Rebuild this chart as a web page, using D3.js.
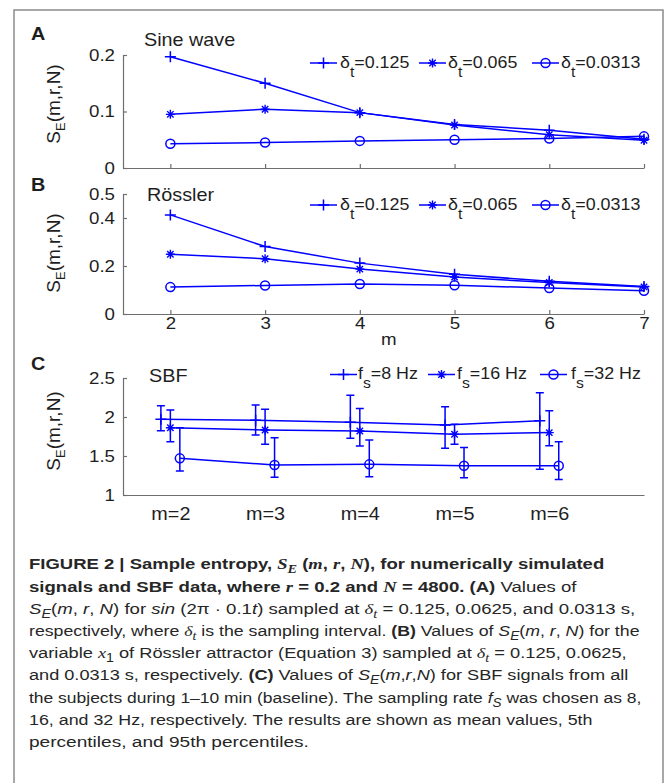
<!DOCTYPE html>
<html>
<head>
<meta charset="utf-8">
<script src="https://cdn.jsdelivr.net/npm/d3@7"></script>
<style>
  body { margin: 0; background: #fff; }
  svg { display: block; font-family: "Liberation Sans", Arial, sans-serif; }
</style>
</head>
<body>
<svg width="669" height="783"></svg>
<script>
// data
var mValues = [2, 3, 4, 5, 6, 7];
var sineDt0125 = [0.197, 0.150, 0.098, 0.077, 0.067, 0.051];
var sineDt0065 = [0.095, 0.104, 0.098, 0.076, 0.059, 0.049];
var sineDt0313 = [0.043, 0.045, 0.048, 0.050, 0.052, 0.056];
var rossDt0125 = [0.413, 0.281, 0.212, 0.166, 0.136, 0.115];
var rossDt0065 = [0.249, 0.230, 0.187, 0.154, 0.131, 0.113];
var rossDt0313 = [0.112, 0.119, 0.125, 0.120, 0.108, 0.097];
var dtLabels = ["0.125", "0.065", "0.0313"];
var sineTicks = [0, 0.1, 0.2];
var rossTicks = [0, 0.2, 0.4, 0.5];

var sbfM = [2, 3, 4, 5, 6];
var sbfCats = ["m=2", "m=3", "m=4", "m=5", "m=6"];
var fs8Mean = [1.970, 1.957, 1.932, 1.897, 1.953];
var fs8P5 = [1.824, 1.770, 1.727, 1.600, 1.330];
var fs8P95 = [2.145, 2.154, 2.280, 2.130, 2.310];
var fs16Mean = [1.863, 1.833, 1.820, 1.778, 1.800];
var fs16P5 = [1.683, 1.650, 1.628, 1.650, 1.632];
var fs16P95 = [2.090, 2.100, 2.110, 1.906, 2.080];
var fs32Mean = [1.470, 1.385, 1.393, 1.376, 1.376];
var fs32P5 = [1.308, 1.227, 1.235, 1.222, 1.200];
var fs32P95 = [1.863, 1.735, 1.705, 1.610, 1.683];
var fsLabels = ["8 Hz", "16 Hz", "32 Hz"];
var sbfTicks = [1, 1.5, 2, 2.5];

var svg = d3.select("svg");
var blue = "#0000ff";
var axisColor = "#6e6e6e";
var textColor = "#1e1e1e";
var k = 1.1; // the source figure is a bit stretched sideways

// frame
svg.append("path")
  .attr("d", "M14,783V10H663V783")
  .attr("fill", "none")
  .attr("stroke", "#8c8c8c")
  .attr("stroke-width", 1.5);

var x = d3.scaleLinear().domain([1.5, 7]).range([123, 644]);

function stretch(sel, s) {
  sel.each(function () {
    var t = d3.select(this);
    var x0 = +t.attr("x") || 0;
    t.attr("transform", "translate(" + (x0 * (1 - s)) + ",0) scale(" + s + ",1)");
  });
}

function drawMarker(g, type, cx, cy) {
  if (type === "plus") {
    g.append("path")
      .attr("d", "M" + (cx - 5.5) + "," + cy + "h11M" + cx + "," + (cy - 5.5) + "v11")
      .attr("stroke", blue).attr("stroke-width", 1.5).attr("fill", "none");
  } else if (type === "star") {
    var r = 4.5, d = 3.2;
    g.append("path")
      .attr("d", "M" + (cx - r) + "," + cy + "h" + (2 * r) +
        "M" + cx + "," + (cy - r) + "v" + (2 * r) +
        "M" + (cx - d) + "," + (cy - d) + "l" + (2 * d) + "," + (2 * d) +
        "M" + (cx - d) + "," + (cy + d) + "l" + (2 * d) + "," + (-2 * d))
      .attr("stroke", blue).attr("stroke-width", 1.4).attr("fill", "none");
  } else {
    g.append("circle")
      .attr("cx", cx).attr("cy", cy).attr("r", 4.5)
      .attr("stroke", blue).attr("stroke-width", 1.5).attr("fill", "none");
  }
}

function styleAxis(a, size) {
  a.select(".domain").attr("stroke", axisColor).attr("stroke-width", 1.2);
  a.selectAll(".tick line").attr("stroke", axisColor).attr("stroke-width", 1.2);
  a.selectAll(".tick text")
    .attr("fill", textColor)
    .attr("font-size", size)
    .attr("font-family", "Liberation Sans, Arial, sans-serif");
  stretch(a.selectAll(".tick text"), k);
}

function yLabel(cy) {
  var t = svg.append("text")
    .attr("transform", "translate(60," + cy + ") rotate(-90)")
    .attr("text-anchor", "middle")
    .attr("font-size", 19)
    .attr("fill", textColor);
  t.append("tspan").text("S");
  t.append("tspan").attr("font-size", 13).attr("dy", 5).text("E");
  t.append("tspan").attr("dy", -5).text("(m,r,N)");
}

function plainText(txt, px, py, size, weight) {
  var t = svg.append("text")
    .attr("x", px).attr("y", py)
    .attr("font-size", size)
    .attr("font-weight", weight || "normal")
    .attr("fill", textColor)
    .text(txt);
  stretch(t, k);
  return t;
}

function legend(types, lineX, textX, ly, main, sub, labels) {
  types.forEach(function (type, i) {
    svg.append("line")
      .attr("x1", lineX[i]).attr("x2", lineX[i] + 27)
      .attr("y1", ly).attr("y2", ly)
      .attr("stroke", blue).attr("stroke-width", 1.5);
    drawMarker(svg, type, lineX[i] + 13.5, ly);
    var t = svg.append("text")
      .attr("x", textX[i]).attr("y", ly + 5)
      .attr("font-size", 17)
      .attr("fill", textColor);
    t.append("tspan").text(main);
    t.append("tspan").attr("dy", 9).attr("font-size", 15).text(sub);
    t.append("tspan").attr("dy", -9).text("=" + labels[i]);
    stretch(t, 1.05);
  });
}

var markerTypes = ["plus", "star", "circle"];

function linePanel(o) {
  var y = d3.scaleLinear().domain(o.domain).range(o.range);

  var ya = svg.append("g")
    .attr("transform", "translate(123,0)")
    .call(d3.axisLeft(y).tickValues(o.ticks).tickSizeInner(-4).tickSizeOuter(0)
      .tickPadding(8).tickFormat(function (d) { return String(d); }));
  styleAxis(ya, 17);

  var xa = svg.append("g")
    .attr("transform", "translate(0," + o.range[0] + ")")
    .call(d3.axisBottom(x).tickValues(mValues).tickSizeInner(-4).tickSizeOuter(0)
      .tickPadding(3).tickFormat(o.xLabels ? function (d) { return d; } : function () { return ""; }));
  styleAxis(xa, 17);

  var line = d3.line()
    .x(function (d) { return x(d.m); })
    .y(function (d) { return y(d.v); });

  o.series.forEach(function (vals, i) {
    var pts = mValues.map(function (m, j) { return { m: m, v: vals[j] }; });
    svg.append("path")
      .datum(pts)
      .attr("d", line)
      .attr("fill", "none")
      .attr("stroke", blue)
      .attr("stroke-width", 1.5);
    pts.forEach(function (p) { drawMarker(svg, markerTypes[i], x(p.m), y(p.v)); });
  });
}

// (A) sine wave
plainText("A", 31, 40, 18, "bold");
plainText("Sine wave", 144, 46, 18);
yLabel(104);
linePanel({
  domain: [0, 0.2], range: [168, 55], ticks: sineTicks,
  series: [sineDt0125, sineDt0065, sineDt0313], xLabels: false
});
legend(markerTypes, [310, 419, 532], [340, 448, 561], 63, "δ", "t", dtLabels);

// (B) Rossler
plainText("B", 31, 191, 18, "bold");
plainText("Rössler", 147, 201, 18);
yLabel(253);
linePanel({
  domain: [0, 0.5], range: [314, 194], ticks: rossTicks,
  series: [rossDt0125, rossDt0065, rossDt0313], xLabels: true
});
legend(markerTypes, [310, 419, 532], [340, 448, 561], 205, "δ", "t", dtLabels);
plainText("m", 381, 345, 17);

// (C) SBF
plainText("C", 31, 370, 18, "bold");
plainText("SBF", 149, 382, 18);
yLabel(431);

var yC = d3.scaleLinear().domain([1, 2.5]).range([495, 378]);
var yaC = svg.append("g")
  .attr("transform", "translate(123,0)")
  .call(d3.axisLeft(yC).tickValues(sbfTicks).tickSizeInner(-4).tickSizeOuter(0)
    .tickPadding(8).tickFormat(function (d) { return String(d); }));
styleAxis(yaC, 17);
var xaC = svg.append("g")
  .attr("transform", "translate(0,495)")
  .call(d3.axisBottom(x).tickValues(sbfM).tickSize(0).tickPadding(12)
    .tickFormat(function (d, i) { return sbfCats[i]; }));
xaC.selectAll(".tick line").remove();
styleAxis(xaC, 18);

var sbfSeries = [
  { mean: fs8Mean, lo: fs8P5, hi: fs8P95, shift: -0.1 },
  { mean: fs16Mean, lo: fs16P5, hi: fs16P95, shift: 0 },
  { mean: fs32Mean, lo: fs32P5, hi: fs32P95, shift: 0.1 }
];
var lineC = d3.line()
  .x(function (d) { return x(d.m); })
  .y(function (d) { return yC(d.v); });

sbfSeries.forEach(function (s, i) {
  var pts = sbfM.map(function (m, j) {
    return { m: m + s.shift, v: s.mean[j], lo: s.lo[j], hi: s.hi[j] };
  });
  svg.append("path")
    .datum(pts)
    .attr("d", lineC)
    .attr("fill", "none")
    .attr("stroke", blue)
    .attr("stroke-width", 1.5);
  pts.forEach(function (p) {
    var cx = x(p.m), y1 = yC(p.hi), y2 = yC(p.lo);
    svg.append("path")
      .attr("d", "M" + cx + "," + y1 + "V" + y2 +
        "M" + (cx - 4) + "," + y1 + "h8M" + (cx - 4) + "," + y2 + "h8")
      .attr("stroke", blue).attr("stroke-width", 1.5).attr("fill", "none");
    drawMarker(svg, markerTypes[i], cx, yC(p.v));
  });
});
legend(markerTypes, [330, 428, 540], [358, 457, 571], 374.5, "f", "s", fsLabels);

// caption
var captionLines = [
  [["FIGURE 2 | Sample entropy, ", "b"], ["S", "bm"], ["E", "bms"], [" (", "b"], ["m", "bm"], [", ", "b"],
   ["r", "bm"], [", ", "b"], ["N", "bm"], ["), for numerically simulated", "b"]],
  [["signals and SBF data, where ", "b"], ["r", "bm"], [" = 0.2 and ", "b"], ["N", "bm"],
   [" = 4800. (A)", "b"], [" Values of", ""]],
  [["S", "i"], ["E", "is"], ["(", ""], ["m", "i"], [", ", ""], ["r", "i"], [",  ", ""], ["N", "i"],
   [") for ", ""], ["sin", "i"], [" (2π · 0.1", ""], ["t", "i"], [") sampled at ", ""], ["δ", "m"],
   ["t", "ms"], [" = 0.125, 0.0625, and 0.0313 s,", ""]],
  [["respectively, where ", ""], ["δ", "m"], ["t", "ms"], [" is the sampling interval. ", ""],
   ["(B)", "b"], [" Values of ", ""], ["S", "i"], ["E", "is"], ["(", ""], ["m", "i"], [", ", ""],
   ["r", "i"], [",  ", ""], ["N", "i"], [") for the", ""]],
  [["variable ", ""], ["x", "m"], ["1", "s"], ["  of Rössler attractor (Equation 3) sampled at ", ""],
   ["δ", "m"], ["t", "ms"], [" = 0.125, 0.0625,", ""]],
  [["and 0.0313 s, respectively. ", ""], ["(C)", "b"], [" Values of ", ""], ["S", "i"], ["E", "is"],
   ["(", ""], ["m", "i"], [",", ""], ["r", "i"], [",", ""], ["N", "i"], [") for SBF signals from all", ""]],
  [["the subjects during 1–10 min (baseline). The sampling rate ", ""], ["f", "i"], ["S", "is"],
   [" was chosen as 8,", ""]],
  [["16, and 32 Hz, respectively. The results are shown as mean values, 5th", ""]],
  [["percentiles, and 95th percentiles.", ""]]
];
var captionRight = [605, 577, 636, 640, 627, 629, 642, 593, 309];
var capLeft = 29;

captionLines.forEach(function (segs, i) {
  var t = svg.append("text")
    .attr("x", capLeft)
    .attr("y", 569.5 + i * 22.2)
    .attr("font-size", 15.5)
    .attr("fill", "#262626");
  var shift = 0;
  segs.forEach(function (s) {
    var st = s[1];
    var ts = t.append("tspan").text(s[0]);
    if (st.indexOf("b") >= 0) ts.attr("font-weight", "bold");
    if (st.indexOf("i") >= 0) ts.attr("font-style", "italic");
    if (st.indexOf("m") >= 0) ts.attr("font-family", "Liberation Serif, serif").attr("font-style", "italic");
    var want = st.indexOf("s") >= 0 ? 4 : 0;
    if (want !== shift) { ts.attr("dy", want - shift); shift = want; }
    if (want) ts.attr("font-size", 12);
  });
  var w = t.node().getComputedTextLength();
  var sx = (captionRight[i] - capLeft) / w;
  t.attr("transform", "translate(" + (capLeft * (1 - sx)) + ",0) scale(" + sx + ",1)");
});
</script>
</body>
</html>
